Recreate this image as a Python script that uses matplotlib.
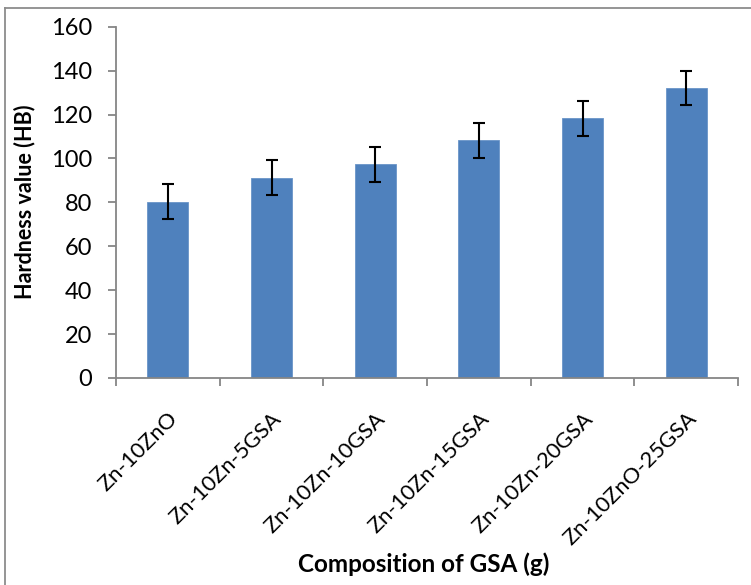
import matplotlib
matplotlib.use("Agg")
import matplotlib.pyplot as plt
from matplotlib.lines import Line2D
import numpy as np

categories = ["Zn-10ZnO", "Zn-10Zn-5GSA", "Zn-10Zn-10GSA", "Zn-10Zn-15GSA",
              "Zn-10Zn-20GSA", "Zn-10ZnO-25GSA"]
hardness = [80.3, 91.3, 97.3, 108.2, 118.2, 132.1]
errors = [7.9, 7.9, 7.9, 7.9, 7.9, 7.9]
yticks = [0, 20, 40, 60, 80, 100, 120, 140, 160]

plt.rcParams['font.family'] = ['Lato', 'DejaVu Sans']

W, H = 751, 585
fig = plt.figure(figsize=(W / 100, H / 100), dpi=100)
fig.patch.set_facecolor('white')

# outer chart frame (only top and left edges visible, cropped image)
fig.add_artist(Line2D([5 / W, 5 / W], [0, 1 - 8 / H], transform=fig.transFigure,
                      color='#8c8c8c', linewidth=1.3))
fig.add_artist(Line2D([5 / W, 1], [1 - 8 / H, 1 - 8 / H], transform=fig.transFigure,
                      color='#8c8c8c', linewidth=1.3))

left, right = 116 / W, 738 / W
bottom, top = 1 - 378 / H, 1 - 26.7 / H
ax = fig.add_axes([left, bottom, right - left, top - bottom])

x = np.arange(len(categories))
ax.bar(x, hardness, width=0.395, color='#4F81BD', edgecolor='#6a94c8',
       linewidth=0.6, zorder=2)
ax.errorbar(x, hardness, yerr=errors, fmt='none', ecolor='black',
            elinewidth=1.5, capsize=4.3, capthick=1.5, zorder=3)

ax.set_xlim(-0.5, len(categories) - 0.5)
ax.set_ylim(0, 160)
ax.set_yticks(yticks)
ax.set_yticklabels([str(v) for v in yticks], fontsize=17)

ax.set_xticks(np.arange(-0.5, len(categories), 1.0))
ax.set_xticklabels([])
ax.set_xticks(x, minor=True)
ax.set_xticklabels(categories, minor=True, rotation=45, ha='right',
                   va='top', rotation_mode='anchor', fontsize=15.8)
ax.tick_params(axis='x', which='minor', length=0, pad=22)
ax.tick_params(axis='x', which='major', length=6, width=1.3,
               color='#868686', direction='out')
ax.tick_params(axis='y', which='major', length=6, width=1.3,
               color='#868686', direction='out', pad=11)

for s in ['top', 'right']:
    ax.spines[s].set_visible(False)
for s in ['left', 'bottom']:
    ax.spines[s].set_color('#868686')
    ax.spines[s].set_linewidth(1.3)

fig.text(25 / W, 1 - 202 / H, 'Hardness value (HB)', rotation=90,
         ha='center', va='center', fontsize=15.5, fontweight='bold')
fig.text(424 / W, 1 - 564 / H, 'Composition of GSA (g)', ha='center',
         va='center', fontsize=17.5, fontweight='bold')

fig.savefig('out.png', dpi=100, facecolor='white')
